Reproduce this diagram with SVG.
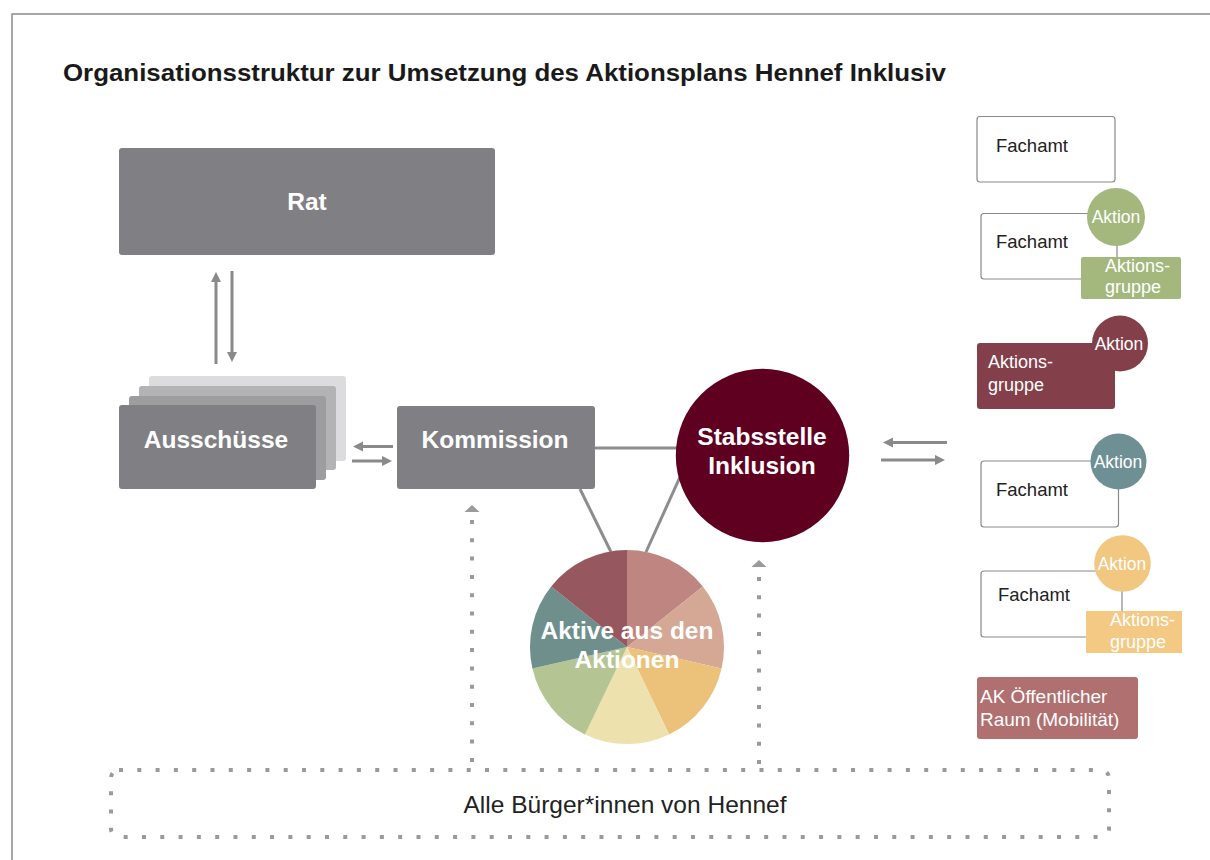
<svg xmlns="http://www.w3.org/2000/svg" width="1210" height="860" viewBox="0 0 1210 860">
  <style>
    .frame { fill: none; stroke: #8c8c8c; stroke-width: 1.5; }
    .title { font-family: "Liberation Sans", Arial, sans-serif; font-weight: bold; font-size: 24px; fill: #1a1a1a; }
    .lbl { font-family: "Liberation Sans", Arial, sans-serif; font-weight: bold; font-size: 24.5px; fill: #ffffff; text-anchor: middle; }
    .grey { fill: #808084; }
    .amt { fill: #ffffff; stroke: #8a8a8a; stroke-width: 1.2; }
    .amt-t { font-family: "Liberation Sans", Arial, sans-serif; font-size: 18.5px; fill: #222222; }
    .ak-t { font-family: "Liberation Sans", Arial, sans-serif; font-size: 17.5px; fill: #ffffff; text-anchor: middle; }
    .grp-t { font-family: "Liberation Sans", Arial, sans-serif; font-size: 18px; fill: #ffffff; }
    .ak-raum-t { font-family: "Liberation Sans", Arial, sans-serif; font-size: 19px; fill: #ffffff; }
    .link { fill: none; stroke: #8d8d90; stroke-width: 3; }
    .arrow { fill: none; stroke: #8a8a8d; stroke-width: 3; marker-end: url(#head); }
    .dots { fill: none; stroke: #9a9a9c; stroke-width: 4; stroke-dasharray: 4 14.3; }
    .bottom-t { font-family: "Liberation Sans", Arial, sans-serif; font-size: 24px; fill: #222222; text-anchor: middle; }
  </style>
  <defs>
    <marker id="head" viewBox="0 0 10 10" refX="6" refY="5" markerWidth="3.4" markerHeight="3.4" orient="auto" markerUnits="strokeWidth">
      <path d="M0,0 L10,5 L0,10 z" fill="#8a8a8d"/>
    </marker>
  </defs>

  <rect width="1210" height="860" fill="#ffffff"/>
  <!-- page frame -->
  <path class="frame" d="M12,860 V14 H1210"/>

  <text class="title" x="63" y="81" textLength="883" lengthAdjust="spacingAndGlyphs">Organisationsstruktur zur Umsetzung des Aktionsplans Hennef Inklusiv</text>

  <!-- connectors -->
  <g id="connectors">
    <line class="arrow" x1="216" y1="364" x2="216" y2="276"/>
    <line class="arrow" x1="232" y1="271" x2="232" y2="358"/>
    <line class="arrow" x1="393" y1="446.5" x2="357" y2="446.5"/>
    <line class="arrow" x1="352" y1="461" x2="388" y2="461"/>
    <line class="arrow" x1="947" y1="442.5" x2="887" y2="442.5"/>
    <line class="arrow" x1="881" y1="460" x2="941" y2="460"/>
    <line class="link" x1="595" y1="448" x2="680" y2="448"/>
    <line class="link" x1="580" y1="489" x2="611" y2="552"/>
    <line class="link" x1="680" y1="477" x2="646" y2="552"/>
    <line class="dots" x1="472" y1="520" x2="472" y2="764"/>
    <path d="M472,505 L479.5,512 L464.5,512 z" fill="#9a9a9c"/>
    <line class="dots" x1="759" y1="577" x2="759" y2="764"/>
    <path d="M759,560 L766.5,567 L751.5,567 z" fill="#9a9a9c"/>
  </g>

  <g id="rat">
    <rect class="grey" x="119" y="148" width="376" height="107" rx="3"/>
    <text class="lbl" x="307" y="210">Rat</text>
  </g>

  <g id="ausschuesse">
    <rect x="149" y="376" width="197" height="85" rx="3" fill="#dcdcde"/>
    <rect x="139" y="386" width="197" height="84" rx="3" fill="#b3b3b6"/>
    <rect x="129" y="396" width="197" height="84" rx="3" fill="#9d9da0"/>
    <rect class="grey" x="119" y="405" width="197" height="84" rx="3"/>
    <text class="lbl" x="216" y="448">Ausschüsse</text>
  </g>

  <g id="kommission">
    <rect class="grey" x="397" y="406" width="198" height="83" rx="3"/>
    <text class="lbl" x="495" y="448">Kommission</text>
  </g>

  <g id="stabsstelle">
    <circle cx="762.5" cy="455.5" r="86.7" fill="#600021"/>
    <text class="lbl" x="762" y="445">Stabsstelle</text>
    <text class="lbl" x="762" y="474">Inklusion</text>
  </g>

  <g id="aktive">
    <path d="M627,647 L627,550 A97,97 0 0 1 702.84,586.52 z" fill="#bf8580"/>
    <path d="M627,647 L702.84,586.52 A97,97 0 0 1 721.57,668.58 z" fill="#d4a895"/>
    <path d="M627,647 L721.57,668.58 A97,97 0 0 1 669.09,734.4 z" fill="#ecc27a"/>
    <path d="M627,647 L669.09,734.4 A97,97 0 0 1 584.91,734.4 z" fill="#ede1ad"/>
    <path d="M627,647 L584.91,734.4 A97,97 0 0 1 532.43,668.58 z" fill="#b5c493"/>
    <path d="M627,647 L532.43,668.58 A97,97 0 0 1 551.16,586.52 z" fill="#6f8f8d"/>
    <path d="M627,647 L551.16,586.52 A97,97 0 0 1 627,550 z" fill="#97575e"/>
    <text class="lbl" x="627" y="639">Aktive aus den</text>
    <text class="lbl" x="627" y="668">Aktionen</text>
  </g>

  <g id="buerger">
    <rect class="dots" x="111" y="770" width="998" height="67" rx="8"/>
    <text class="bottom-t" x="625" y="813" textLength="323" lengthAdjust="spacingAndGlyphs">Alle Bürger*innen von Hennef</text>
  </g>

  <g id="fachamt-1">
    <rect class="amt" x="977" y="116.5" width="138" height="65.5" rx="3"/>
    <text class="amt-t" x="996" y="152">Fachamt</text>
  </g>

  <g id="fachamt-2">
    <rect class="amt" x="981" y="213.5" width="136" height="65.5" rx="3"/>
    <text class="amt-t" x="996" y="248">Fachamt</text>
    <circle cx="1116" cy="217" r="29" fill="#a4b87e"/>
    <text class="ak-t" x="1116" y="223">Aktion</text>
    <rect x="1081" y="257" width="100" height="42" rx="2" fill="#a4b87e"/>
    <text class="grp-t" x="1105" y="272">Aktions-</text>
    <text class="grp-t" x="1105" y="293">gruppe</text>
  </g>

  <g id="aktionsgruppe">
    <rect x="977" y="343" width="138" height="66" rx="3" fill="#833f4a"/>
    <circle cx="1120" cy="343.5" r="28" fill="#833f4a"/>
    <text class="ak-t" x="1119" y="350">Aktion</text>
    <text class="grp-t" x="988" y="368">Aktions-</text>
    <text class="grp-t" x="988" y="391">gruppe</text>
  </g>

  <g id="fachamt-3">
    <rect class="amt" x="981" y="461" width="137.5" height="66" rx="3"/>
    <text class="amt-t" x="996" y="496">Fachamt</text>
    <circle cx="1118.5" cy="461.5" r="28" fill="#6e8f93"/>
    <text class="ak-t" x="1118" y="468">Aktion</text>
  </g>

  <g id="fachamt-4">
    <rect class="amt" x="981" y="571" width="141" height="66" rx="3"/>
    <text class="amt-t" x="998" y="601">Fachamt</text>
    <circle cx="1122.5" cy="563.5" r="28.3" fill="#f2c77f"/>
    <text class="ak-t" x="1122" y="569.5">Aktion</text>
    <rect x="1086" y="611" width="96" height="42" fill="#f4c983"/>
    <text class="grp-t" x="1110" y="626">Aktions-</text>
    <text class="grp-t" x="1110" y="648">gruppe</text>
  </g>

  <g id="ak-raum">
    <rect x="977" y="677" width="161" height="62" rx="3" fill="#b07070"/>
    <text class="ak-raum-t" x="980" y="703">AK Öffentlicher</text>
    <text class="ak-raum-t" x="980" y="726">Raum (Mobilität)</text>
  </g>
</svg>
